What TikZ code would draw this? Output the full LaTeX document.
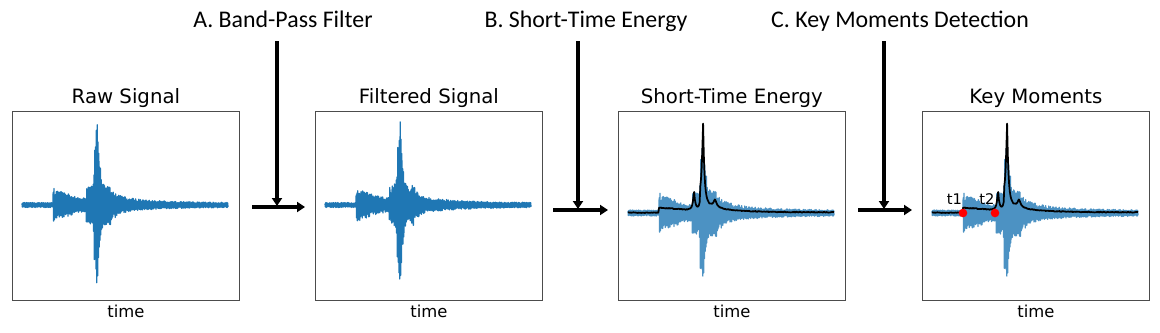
\documentclass[tikz,border=0pt]{standalone}
\usepackage{fontspec}
\setmainfont{DejaVu Sans}
\newfontfamily\calibri{Carlito}
\usetikzlibrary{arrows.meta,positioning}
\definecolor{sigblue}{HTML}{1F77B4}
\definecolor{sigbluelt}{HTML}{4C92C3}

\begin{document}
\begin{tikzpicture}[
    x=0.75pt, y=-0.75pt,
    declare function={
      ns(\x)=2.5+(\x>31)*15*exp(-max(\x-31,0)/28)+(\x>64)*12*exp(-max(\x-64,0)/35)+(\x>72)*24*exp(-max(\x-72,0)/8)+8*exp(-abs(\x-88)/3);
      spk(\x)=60*exp(-abs(\x-75)/2.2);
      en(\x)=(\x>31)*5*exp(-max(\x-31,0)/60)+20*exp(-abs(\x-66)/1.3)+82*exp(-abs(\x-75)/1.4)+(\x>72)*12*exp(-max(\x-72,0)/14)+8*exp(-abs(\x-87)/2);
    },
    panel/.style={draw=black!70,line width=0.6pt,minimum width=170.25pt,
                  minimum height=141.75pt,inner sep=0pt,anchor=north west},
    ptitle/.style={font=\fontsize{14.8}{17}\selectfont,inner sep=1pt},
    axlbl/.style={font=\fontsize{12.3}{14}\selectfont,inner sep=1pt},
    dotlbl/.style={font=\fontsize{11}{13}\selectfont,inner sep=0pt},
    steplbl/.style={font=\calibri\fontsize{17.9}{20}\selectfont,inner sep=0pt,anchor=base},
    flow/.style={line width=2.6pt,-{Triangle[length=6pt,width=7.5pt]}},
    keydot/.style={circle,fill=red,inner sep=0pt,minimum size=6.5pt}
  ]
    \useasboundingbox (0,0) rectangle (1160,332);

    % Panels
    \node[panel] (raw)  at (12,111)  {};
    \node[panel] (filt) at (315,111) {};
    \node[panel] (ste)  at (618,111) {};
    \node[panel] (key)  at (922,111) {};
    \node[ptitle, above=1pt of raw]  {Raw Signal};
    \node[ptitle, above=1pt of filt] {Filtered Signal};
    \node[ptitle, above=1pt of ste]  {Short-Time Energy};
    \node[ptitle, above=1pt of key]  {Key Moments};
    \node[axlbl, below=2pt of raw]  {time};
    \node[axlbl, below=2pt of filt] {time};
    \node[axlbl, below=2pt of ste]  {time};
    \node[axlbl, below=2pt of key]  {time};

    % Waveforms
    \foreach \ox/\oy/\col/\sd/\gain/\peak in {22/205/sigblue/3/1/1, 325/205/sigblue/7/1/1,
                                  628/213/sigbluelt/3/1.2/0.65, 932/213/sigbluelt/3/1.2/0.65}{
      \pgfmathsetseed{\sd}
      \draw[\col, line width=1pt, line join=round]
        plot[domain=0:206, samples=516]
        ({\ox+\x}, {\oy-cos(450*mod(\x,0.8))*(\gain*ns(\x)*(0.55+0.45*rnd)+\peak*spk(\x))});
    }
    % Energy curves
    \foreach \ox in {628,932}{
      \pgfmathsetseed{11}
      \draw[black, line width=1.3pt, line join=round]
        plot[domain=0:206, samples=300] ({\ox+\x}, {213-en(\x)-0.8*rnd});
    }

    % Key moments
    \node[keydot] (t1) at (963,213) {};
    \node[keydot] (t2) at (995,213) {};
    \node[dotlbl, above=3pt of t1, xshift=-6.4pt] {t1};
    \node[dotlbl, above=3pt of t2, xshift=-6pt]   {t2};

    % Processing steps
    \node[steplbl] (stA) at (283,27) {A. Band-Pass Filter};
    \node[steplbl] (stB) at (586,27) {B. Short-Time Energy};
    \node[steplbl] (stC) at (900,27) {C. Key Moments Detection};

    \coordinate (inA)  at (252,207);
    \coordinate (outA) at (305,207);
    \coordinate (topA) at (277,41);
    \coordinate (midA) at (277,206);
    \coordinate (inB)  at (553,210);
    \coordinate (outB) at (608,210);
    \coordinate (topB) at (578,41);
    \coordinate (midB) at (578,209);
    \coordinate (inC)  at (858,210);
    \coordinate (outC) at (912,210);
    \coordinate (topC) at (884,41);
    \coordinate (midC) at (884,209);

    % Arrows
    \draw[flow] (inA)--(outA);
    \draw[flow] (topA)--(midA);
    \draw[flow] (inB)--(outB);
    \draw[flow] (topB)--(midB);
    \draw[flow] (inC)--(outC);
    \draw[flow] (topC)--(midC);
  \end{tikzpicture}
\end{document}
